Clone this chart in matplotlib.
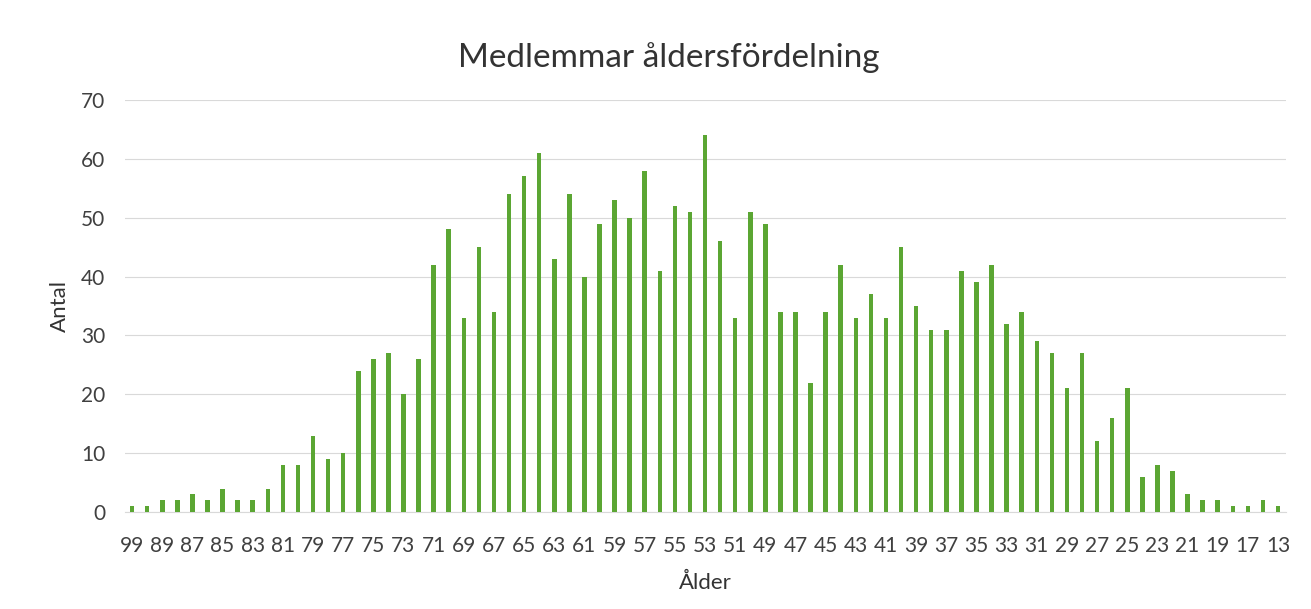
import numpy as np
import matplotlib.pyplot as plt

plt.rcParams['font.family'] = ['Lato', 'DejaVu Sans']

# Ålder (kategorier, i den ordning de visas) och antal medlemmar
ages = [99, 90] + list(range(89, 16, -1)) + [15, 13]
counts = [1, 1, 2, 2, 3, 2, 4, 2, 2, 4,          # 99, 90, 89..82
          8, 8, 13, 9, 10, 24, 26, 27, 20, 26,   # 81..72
          42, 48, 33, 45, 34, 54, 57, 61, 43, 54,  # 71..62
          40, 49, 53, 50, 58, 41, 52, 51, 64, 46,  # 61..52
          33, 51, 49, 34, 34, 22, 34, 42, 33, 37,  # 51..42
          33, 45, 35, 31, 31, 41, 39, 42, 32, 34,  # 41..32
          29, 27, 21, 27, 12, 16, 21, 6, 8, 7,     # 31..22
          3, 2, 2, 1, 1, 2, 1]                     # 21..17, 15, 13

title = 'Medlemmar åldersfördelning'
xlabel = 'Ålder'
ylabel = 'Antal'

fig = plt.figure(figsize=(13.11, 6.09), dpi=100)
ax = fig.add_axes([0.095, 0.159, 0.8856, 0.677])

x = np.arange(len(ages))
ax.bar(x, counts, width=0.3, color='#5ba633', zorder=3)

ax.set_xlim(-0.5, len(ages) - 0.5)
ax.set_ylim(0, 70)
ax.set_yticks(range(0, 71, 10))
ax.set_xticks(x[::2])
ax.set_xticklabels([str(a) for a in ages[::2]])

ax.grid(axis='y', color='#d9d9d9', linewidth=0.8, zorder=0)
for s in ['top', 'right', 'left']:
    ax.spines[s].set_visible(False)
ax.spines['bottom'].set_color('#d9d9d9')
ax.tick_params(axis='both', length=0, labelsize=15, colors='#404040')
ax.tick_params(axis='x', pad=17)
ax.tick_params(axis='y', pad=14)

# titeln centreras över hela diagramytan, inte bara plottytan
fig.text(0.510, 0.906, title, fontsize=24, color='#333333',
         ha='center', va='center')
ax.set_xlabel(xlabel, fontsize=16, color='#333333', labelpad=12)
ax.set_ylabel(ylabel, fontsize=16, color='#333333', labelpad=8)

fig.savefig('out.png', dpi=100)
